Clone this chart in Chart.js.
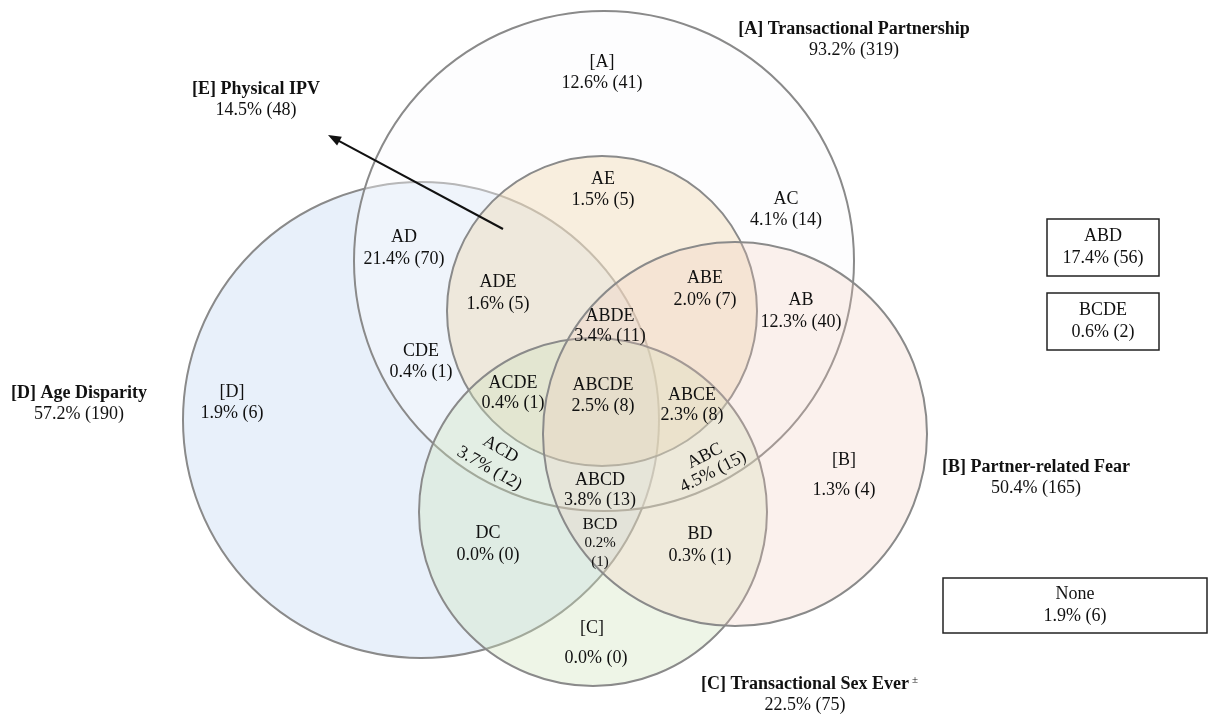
<!DOCTYPE html>
<html>
<head>
<meta charset="utf-8">
<title>Venn</title>
<script src="https://cdn.jsdelivr.net/npm/chart.js@4.4.1/dist/chart.umd.min.js"></script>
<style>
  html, body { margin: 0; padding: 0; background: #ffffff; }
  #wrap { width: 1212px; height: 715px; }
</style>
</head>
<body>
<div id="wrap"><canvas id="venn" width="1212" height="715"></canvas></div>
<script>
Chart.defaults.devicePixelRatio = 1;

// ================== DATA ==================
const setKeys  = ['A', 'B', 'C', 'D', 'E'];
const setNames = ['Transactional Partnership', 'Partner-related Fear', 'Transactional Sex Ever', 'Age Disparity', 'Physical IPV'];
const setPct   = [93.2, 50.4, 22.5, 57.2, 14.5];
const setN     = [319, 165, 75, 190, 48];

const regionKeys = ['[A]', 'AE', 'AC', 'AD', 'ADE', 'ABE', 'ABDE', 'AB', 'CDE', 'ACDE', 'ABCDE',
                    'ABCE', '[D]', 'ACD', 'ABC', '[B]', 'ABCD', 'DC', 'BCD', 'BD', '[C]'];
const regionPct  = [12.6, 1.5, 4.1, 21.4, 1.6, 2.0, 3.4, 12.3, 0.4, 0.4, 2.5,
                    2.3, 1.9, 3.7, 4.5, 1.3, 3.8, 0.0, 0.2, 0.3, 0.0];
const regionN    = [41, 5, 14, 70, 5, 7, 11, 40, 1, 1, 8,
                    8, 6, 12, 15, 4, 13, 0, 1, 1, 0];

// combinations that could not be placed in the diagram
const boxKeys = ['ABD', 'BCDE', 'None'];
const boxPct  = [17.4, 0.6, 1.9];
const boxN    = [56, 2, 6];

// ================== LAYOUT (canvas units) ==================
// circles, same order as setKeys
const circleX = [604, 735, 593, 421, 602];
const circleY = [261, 434, 512, 420, 311];
const circleR = [250, 192, 174, 238, 155];
const circleFill = [
  'rgba(250, 250, 252, 0.40)',  // A
  'rgba(240, 200, 185, 0.25)',  // B
  'rgba(205, 225, 185, 0.35)',  // C
  'rgba(200, 220, 242, 0.42)',  // D
  'rgba(240, 205, 150, 0.30)'   // E
];
const drawOrder = ['D', 'A', 'E', 'C', 'B'];

// set titles: x, y of first line
const titleX = [854, 1036, 805, 79, 256];
const titleY = [29, 467, 684, 393, 89];

// region labels: x, y of first line, y of second line, rotation (deg)
const regionX  = [602, 603, 786, 404, 498, 705, 610, 801, 421, 513, 603,
                  692, 232, 495, 709, 844, 600, 488, 600, 700, 592];
const regionY1 = [62, 179, 199, 237, 282, 278, 316, 300, 351, 383, 385,
                  395, 392, 448, 455, 460, 480, 533, 525, 534, 628];
const regionY2 = [83, 200, 220, 259, 304, 300, 336, 322, 372, 403, 406,
                  415, 413, 470, 473, 490, 500, 555, 543, 556, 658];
const regionRot = { 'ACD': 30, 'ABC': -27 };

// boxes: left, top, right, bottom
const boxRect = [[1047, 219, 1159, 276], [1047, 293, 1159, 350], [943, 578, 1207, 633]];

// arrow from E region to its title
const arrowFrom = [503, 229];
const arrowTo   = [328, 135];

const FONT = '"Liberation Serif", "Times New Roman", serif';

function fmt(p, n) {
  return p.toFixed(1) + '% (' + n + ')';
}

// ================== CIRCLES PLUGIN ==================
// circles are drawn from the dataset points, radius converted through the x scale
const vennCircles = {
  id: 'vennCircles',
  beforeDatasetsDraw(chart) {
    const { ctx, scales: { x, y } } = chart;
    ctx.save();
    drawOrder.forEach(k => {
      const i = setKeys.indexOf(k);
      const cx = x.getPixelForValue(circleX[i]);
      const cy = y.getPixelForValue(circleY[i]);
      const r = x.getPixelForValue(circleX[i] + circleR[i]) - cx;
      ctx.beginPath();
      ctx.arc(cx, cy, r, 0, Math.PI * 2);
      ctx.fillStyle = circleFill[i];
      ctx.fill();
      ctx.strokeStyle = '#8a8a8a';
      ctx.lineWidth = 2;
      ctx.stroke();
    });
    ctx.restore();
  }
};

// ================== LABELS PLUGIN ==================
const vennLabels = {
  id: 'vennLabels',
  afterDatasetsDraw(chart) {
    const { ctx, scales: { x, y } } = chart;
    const px = v => x.getPixelForValue(v);
    const py = v => y.getPixelForValue(v);

    ctx.save();
    ctx.fillStyle = '#111111';
    ctx.textAlign = 'center';
    ctx.textBaseline = 'middle';

    // region labels
    regionKeys.forEach((k, i) => {
      const txt = fmt(regionPct[i], regionN[i]);
      if (regionRot[k] !== undefined) {
        const cx = px(regionX[i]);
        const cy = py((regionY1[i] + regionY2[i]) / 2);
        const half = (py(regionY2[i]) - py(regionY1[i])) / 2;
        ctx.save();
        ctx.translate(cx, cy);
        ctx.rotate(regionRot[k] * Math.PI / 180);
        ctx.font = '18px ' + FONT;
        ctx.fillText(k, 0, -half);
        ctx.fillText(txt, 0, half);
        ctx.restore();
      } else if (k === 'BCD') {
        // narrow region, split into three smaller lines
        ctx.font = '17px ' + FONT;
        ctx.fillText(k, px(regionX[i]), py(regionY1[i]));
        ctx.font = '15px ' + FONT;
        ctx.fillText(regionPct[i].toFixed(1) + '%', px(regionX[i]), py(regionY2[i]));
        ctx.fillText('(' + regionN[i] + ')', px(regionX[i]), py(regionY2[i] + 19));
      } else {
        ctx.font = '18px ' + FONT;
        ctx.fillText(k, px(regionX[i]), py(regionY1[i]));
        ctx.fillText(txt, px(regionX[i] + (k === '[C]' ? 4 : 0)), py(regionY2[i]));
      }
    });

    // set titles
    setKeys.forEach((k, i) => {
      const title = '[' + k + '] ' + setNames[i];
      ctx.font = 'bold 18px ' + FONT;
      ctx.fillText(title, px(titleX[i]), py(titleY[i]));
      if (k === 'C') {
        const w = ctx.measureText(title).width;
        ctx.font = '11px ' + FONT;
        ctx.textAlign = 'left';
        ctx.fillText('±', px(titleX[i]) + w / 2 + 3, py(titleY[i]) - 4);
        ctx.textAlign = 'center';
      }
      ctx.font = '18px ' + FONT;
      ctx.fillText(fmt(setPct[i], setN[i]), px(titleX[i]), py(titleY[i] + 21));
    });

    // boxes
    ctx.strokeStyle = '#222222';
    ctx.lineWidth = 1.5;
    boxKeys.forEach((k, i) => {
      const [l, t, r, b] = boxRect[i];
      ctx.strokeRect(px(l), py(t), px(r) - px(l), py(b) - py(t));
      const cx = (px(l) + px(r)) / 2;
      const cy = (py(t) + py(b)) / 2;
      ctx.font = '18px ' + FONT;
      ctx.fillText(k, cx, cy - 11);
      ctx.fillText(fmt(boxPct[i], boxN[i]), cx, cy + 11);
    });

    // arrow
    const x0 = px(arrowFrom[0]), y0 = py(arrowFrom[1]);
    const x1 = px(arrowTo[0]), y1 = py(arrowTo[1]);
    const ang = Math.atan2(y1 - y0, x1 - x0);
    ctx.strokeStyle = '#111111';
    ctx.lineWidth = 2;
    ctx.beginPath();
    ctx.moveTo(x0, y0);
    ctx.lineTo(x1 - 8 * Math.cos(ang), y1 - 8 * Math.sin(ang));
    ctx.stroke();
    ctx.beginPath();
    ctx.moveTo(x1, y1);
    ctx.lineTo(x1 - 13 * Math.cos(ang) + 5 * Math.sin(ang), y1 - 13 * Math.sin(ang) - 5 * Math.cos(ang));
    ctx.lineTo(x1 - 13 * Math.cos(ang) - 5 * Math.sin(ang), y1 - 13 * Math.sin(ang) + 5 * Math.cos(ang));
    ctx.closePath();
    ctx.fillStyle = '#111111';
    ctx.fill();

    ctx.restore();
  }
};

// ================== CHART ==================
const ctx = document.getElementById('venn').getContext('2d');

new Chart(ctx, {
  type: 'scatter',
  data: {
    datasets: [{
      label: 'centres',
      data: setKeys.map((k, i) => ({ x: circleX[i], y: circleY[i] })),
      pointRadius: 0,
      pointHoverRadius: 0
    }]
  },
  options: {
    responsive: false,
    animation: false,
    events: [],
    layout: { padding: 0 },
    scales: {
      x: { type: 'linear', min: 0, max: 1212, display: false },
      y: { type: 'linear', min: 0, max: 715, reverse: true, display: false }
    },
    plugins: {
      legend: { display: false },
      tooltip: { enabled: false }
    }
  },
  plugins: [vennCircles, vennLabels]
});
</script>
</body>
</html>
